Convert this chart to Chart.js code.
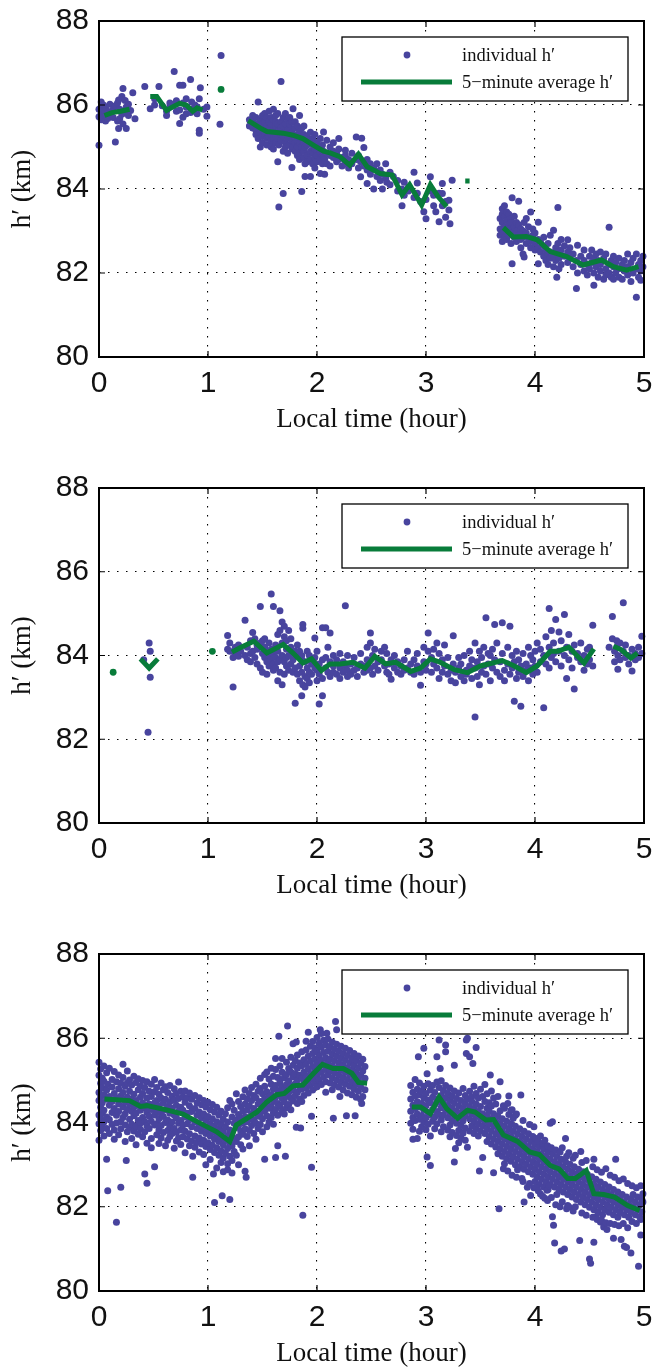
<!DOCTYPE html>
<html>
<head>
<meta charset="utf-8">
<script src="https://cdn.jsdelivr.net/npm/chart.js@4.4.0/dist/chart.umd.min.js"></script>
<style>
    html, body { margin: 0; padding: 0; background: #fff; overflow: hidden; }
    .panel { position: absolute; left: 0; width: 653px; height: 445px; }
</style>
</head>
<body>
<div class="panel" style="top:0px"><canvas id="panelA" width="653" height="445"></canvas></div>
<div class="panel" style="top:467px"><canvas id="panelB" width="653" height="445"></canvas></div>
<div class="panel" style="top:933px"><canvas id="panelC" width="653" height="445"></canvas></div>
<script>
// axis ticks and legend text
const timeTicks = [0, 1, 2, 3, 4, 5];
const heightTicks = [80, 82, 84, 86, 88];
const legendLabels = ['individual h′', '5−minute average h′'];
const xTitle = 'Local time (hour)';
const yTitle = 'h′ (km)';

// individual h' : [local time, [heights...]]
const scatterA = [
    [0.00, [85.04, 85.72, 85.9]], [0.02, [86.07, 85.8, 85.65, 85.95]], [0.04, [85.88, 85.7, 86.0]],
    [0.06, [85.75, 85.95, 85.62]], [0.08, [85.85, 85.68]], [0.10, [85.78, 86.02]], [0.13, [85.9, 85.7]],
    [0.15, [85.12, 85.98]], [0.17, [86.05, 85.62]], [0.18, [85.44, 86.12]], [0.19, [85.67, 85.9]],
    [0.21, [86.2, 85.78]], [0.22, [86.39, 85.55]], [0.24, [86.11, 85.85]], [0.25, [85.44, 85.95]],
    [0.27, [85.75, 86.02]], [0.29, [85.87]], [0.31, [86.29]], [0.33, [85.67]],
    [0.42, [86.44]], [0.47, [85.91]], [0.51, [86.0, 86.15]], [0.55, [86.44]], [0.58, [85.98]],
    [0.62, [85.75, 85.85]], [0.65, [85.95, 86.05]], [0.69, [86.8, 86.02]], [0.71, [85.85, 86.1]],
    [0.74, [86.47, 85.56, 85.88]], [0.77, [86.47, 85.71, 86.05]], [0.80, [85.79, 85.95, 86.15]],
    [0.84, [86.61, 85.82]], [0.85, [86.07, 85.9]], [0.88, [85.85, 86.0]], [0.90, [85.79, 85.95]],
    [0.92, [85.33, 86.15, 85.4]], [0.93, [86.41]], [0.96, [85.9]], [0.99, [85.73, 85.95]],
    [1.11, [85.54]], [1.12, [87.18]],
    [1.38, [85.65, 85.5]], [1.41, [85.75, 85.45, 85.6]], [1.44, [85.4, 85.55, 85.7, 85.3]],
    [1.46, [86.07, 85.2, 85.5]], [1.48, [85.65, 85.35, 85.45, 85.0]], [1.50, [85.55, 85.25, 85.75, 85.1]],
    [1.52, [85.4, 85.6, 85.3, 85.8]], [1.54, [85.2, 85.5, 85.7, 85.05, 85.35]],
    [1.56, [85.45, 85.6, 85.25, 85.85]], [1.58, [85.3, 85.55, 85.15, 85.7, 85.0]],
    [1.60, [85.4, 85.65, 85.2, 85.9, 84.95]], [1.62, [85.5, 85.3, 85.75, 85.1, 85.6]],
    [1.64, [84.65, 85.35, 85.55, 85.2, 85.8]], [1.65, [83.57, 85.4, 85.05]],
    [1.67, [86.56, 85.3, 85.6, 85.15, 85.45]], [1.69, [83.89, 85.25, 85.5, 85.7, 84.9]],
    [1.71, [85.35, 85.1, 85.55, 85.8, 85.0]], [1.73, [85.4, 85.2, 85.65, 84.85, 85.3]],
    [1.75, [85.25, 85.45, 85.05, 85.7, 85.55]], [1.77, [84.51, 85.15, 85.35, 85.6, 84.95]],
    [1.78, [85.91, 85.3, 85.0]], [1.80, [85.2, 85.45, 84.9, 85.6, 85.1]],
    [1.82, [85.0, 85.3, 85.5, 84.8, 85.15]], [1.84, [85.75, 85.1, 84.85, 85.35, 84.7]],
    [1.86, [83.94, 85.2, 84.95, 85.45, 85.0]], [1.88, [84.9, 85.1, 85.3, 84.75, 85.5]],
    [1.89, [84.3, 85.0, 84.6]], [1.91, [85.05, 84.8, 85.25, 84.65]],
    [1.94, [84.3, 84.9, 85.15, 84.7, 85.35]], [1.96, [84.85, 85.05, 84.6, 85.2]],
    [1.98, [84.75, 84.95, 85.3, 84.5]], [2.00, [84.9, 85.1, 84.65, 84.8]],
    [2.03, [84.37, 84.85, 85.0, 84.7, 85.2]], [2.05, [84.8, 84.6, 85.05]], [2.06, [85.36, 84.9, 84.75]],
    [2.07, [84.35, 84.7]], [2.09, [85.16, 84.85, 84.6]], [2.12, [84.8, 85.0, 84.55]],
    [2.15, [84.75, 84.9, 85.1]], [2.18, [84.65, 84.85]], [2.20, [85.2, 84.7, 84.95]],
    [2.23, [84.75, 84.55]], [2.26, [84.92, 84.6, 84.8]], [2.29, [84.7, 84.5]], [2.32, [84.85, 84.6]],
    [2.36, [85.24, 84.7]], [2.38, [84.5, 84.8]], [2.40, [84.29, 84.65]], [2.41, [85.21]],
    [2.43, [84.99, 84.55]], [2.46, [84.13, 84.45, 84.7]], [2.49, [84.35, 84.6]], [2.52, [84.0, 84.5]],
    [2.55, [84.6, 84.3]], [2.58, [84.45, 84.2]], [2.60, [84.0, 84.35]], [2.63, [84.6, 84.25]],
    [2.64, [84.16]], [2.67, [84.4, 84.1]], [2.70, [84.3]], [2.74, [84.2, 83.95]], [2.78, [83.6, 84.0]],
    [2.80, [84.16, 83.85]], [2.84, [83.95, 84.05]], [2.89, [84.4, 83.8]], [2.92, [84.14, 83.9]],
    [2.95, [83.7]], [2.98, [83.46]], [3.00, [83.29, 83.75]], [3.04, [84.29, 83.95]],
    [3.07, [83.85, 83.6]], [3.09, [83.46]], [3.12, [83.22, 83.9]], [3.15, [84.13, 83.89, 83.6]],
    [3.18, [83.33, 83.7]], [3.21, [83.73, 83.5]], [3.22, [83.17]], [3.24, [84.21]],
    [3.68, [83.3, 83.05, 82.9]], [3.70, [83.53, 83.2, 82.95, 83.4, 82.75]],
    [3.72, [83.1, 83.35, 82.85, 83.6]], [3.74, [83.25, 83.0, 82.8, 83.45]],
    [3.76, [83.15, 82.9, 83.4, 83.05]], [3.78, [83.3, 82.7, 83.0, 83.2]], [3.79, [83.79, 82.22, 82.95]],
    [3.81, [83.1, 82.85, 83.35]], [3.83, [83.2, 82.75, 83.0]], [3.85, [83.71, 82.9, 83.15]],
    [3.87, [82.8, 83.05, 82.6]], [3.89, [83.0, 82.85, 82.45]], [3.90, [82.38, 83.2]],
    [3.92, [82.95, 82.7, 83.3]], [3.94, [82.85, 83.1]], [3.96, [83.45, 82.75, 82.6]],
    [3.98, [82.9, 83.05]], [4.00, [82.7, 82.55, 82.95]], [4.03, [83.21, 82.22, 82.6, 82.8]],
    [4.05, [82.75, 82.5]], [4.08, [82.4, 82.65, 82.85]], [4.10, [82.55, 82.3]],
    [4.12, [82.7, 82.45, 82.2]], [4.14, [82.5, 82.35, 82.9]], [4.17, [83.02, 82.4, 82.15]],
    [4.19, [82.6, 82.3]], [4.20, [81.9, 82.5]], [4.21, [83.56, 82.7]], [4.22, [82.1, 82.35]],
    [4.24, [82.55, 82.2, 82.8]], [4.27, [82.4, 82.65]], [4.30, [82.79, 82.25, 82.5]],
    [4.32, [82.35, 82.6]], [4.35, [82.15, 82.45]], [4.38, [81.63, 82.3]], [4.39, [82.66, 82.0]],
    [4.42, [82.2, 82.4]], [4.45, [82.05, 82.3, 82.55]], [4.48, [82.2, 81.95]], [4.50, [82.4, 82.1]],
    [4.52, [82.25, 82.55]], [4.54, [81.71, 82.0, 82.35]], [4.56, [82.15, 82.45]], [4.58, [81.9, 82.3]],
    [4.60, [82.5, 82.05, 82.2]], [4.63, [81.85, 82.35]], [4.65, [82.1, 82.45, 81.95]],
    [4.68, [83.09, 82.2, 82.0]], [4.70, [82.3, 81.9]], [4.72, [82.15, 82.4, 81.85]],
    [4.74, [82.0, 82.25]], [4.77, [82.35, 81.9, 82.1]], [4.80, [82.2, 81.85]], [4.82, [82.05, 82.3]],
    [4.85, [81.95, 82.15, 82.45]], [4.88, [82.25, 81.8]], [4.90, [82.0, 82.35]],
    [4.93, [81.42, 82.1, 82.45]], [4.95, [82.2, 81.9]], [4.97, [81.83, 82.3, 82.05]], [4.99, [82.15, 82.4]]
];

const scatterB = [
    [0.41, [83.9]], [0.45, [82.17]], [0.46, [84.3]], [0.47, [84.1, 83.48]],
    [1.18, [84.48, 84.15]], [1.20, [84.1, 84.3]], [1.23, [83.25, 83.95]], [1.25, [84.2, 84.05]],
    [1.28, [84.25, 83.98]], [1.30, [84.1]], [1.34, [84.84, 84.0]], [1.36, [84.2, 83.9]],
    [1.39, [84.35, 84.05, 83.85]], [1.41, [84.55, 84.1]], [1.43, [84.4, 83.95]],
    [1.45, [84.25, 83.8, 84.15]], [1.48, [85.17, 84.3, 83.7]], [1.50, [84.05, 84.35, 83.6]],
    [1.52, [84.2, 83.95, 84.4]], [1.54, [83.85, 84.1, 83.55]], [1.56, [84.0, 83.75, 84.3]],
    [1.58, [85.47, 83.9, 84.15]], [1.60, [85.17, 83.8, 84.05, 83.65]], [1.62, [84.25, 83.95, 83.7]],
    [1.64, [84.5, 83.85, 84.1, 83.4]], [1.66, [85.07, 84.6, 83.9, 83.6]], [1.68, [84.8, 84.3, 84.0, 83.3]],
    [1.70, [84.7, 83.85, 84.45, 83.55]], [1.72, [84.35, 83.95, 84.15, 83.75]], [1.74, [84.6, 84.0, 83.65]],
    [1.76, [84.2, 83.8, 84.4]], [1.78, [83.6, 84.05, 83.9]], [1.80, [82.86, 84.1, 83.7]],
    [1.82, [84.0, 83.55, 84.25]], [1.84, [83.75, 83.4, 84.1]], [1.86, [83.04, 83.9, 83.6, 84.0]],
    [1.87, [84.74, 84.65, 83.3]], [1.89, [83.5, 83.85, 83.25]], [1.91, [84.1, 83.7, 83.45]],
    [1.93, [83.6, 84.0, 83.35]], [1.95, [83.8, 83.55]], [1.98, [84.42, 83.7, 83.95]],
    [2.00, [83.65, 83.4, 84.1]], [2.02, [82.84, 83.8, 83.55]], [2.05, [83.04, 84.66, 83.9, 83.45]],
    [2.08, [84.66, 83.7, 83.95]], [2.10, [83.6, 84.2]], [2.12, [84.54, 83.85, 83.5]],
    [2.15, [83.75, 84.0, 83.6]], [2.18, [83.9, 83.55]], [2.21, [83.7, 84.05, 83.45]],
    [2.24, [83.85, 83.6]], [2.26, [85.19, 83.75]], [2.28, [83.5, 84.0, 83.65]], [2.31, [83.8, 83.55]],
    [2.34, [83.95, 83.65]], [2.37, [83.7, 83.5]], [2.40, [83.8, 84.05]], [2.43, [83.6, 83.75]],
    [2.46, [84.2, 83.9, 83.65]], [2.49, [84.54, 84.3, 83.7]], [2.51, [84.0, 83.55]], [2.53, [84.15, 83.75]],
    [2.56, [83.85, 83.65]], [2.59, [83.9, 84.1]], [2.62, [84.2, 83.75]], [2.64, [84.05, 83.6]],
    [2.66, [83.8, 83.55]], [2.68, [83.43, 83.9]], [2.71, [83.7, 84.0]], [2.74, [83.6, 83.85]],
    [2.77, [83.55, 83.75]], [2.80, [83.9, 83.65]], [2.83, [84.1, 83.7]], [2.86, [83.6, 83.8]],
    [2.89, [83.9, 83.55]], [2.92, [83.75, 84.05]], [2.95, [83.29, 83.6]], [2.98, [83.85, 84.2]],
    [3.00, [83.65, 83.8]], [3.02, [84.54, 84.1]], [3.05, [83.6, 83.95]], [3.07, [83.8, 84.15]],
    [3.10, [84.3, 83.7]], [3.12, [83.45, 84.05]], [3.15, [83.9, 83.6]], [3.17, [84.25, 83.75]],
    [3.20, [83.55, 83.95]], [3.23, [83.65, 83.4]], [3.25, [84.47, 83.8]], [3.27, [83.35, 83.6]],
    [3.30, [83.7, 83.95]], [3.32, [83.5, 83.8]], [3.35, [83.4, 84.0]], [3.37, [83.65, 83.55]],
    [3.40, [83.75, 84.1]], [3.42, [83.45, 83.9]], [3.45, [82.53, 84.3, 83.7]], [3.47, [83.5, 83.85]],
    [3.49, [84.1, 83.3]], [3.51, [83.95, 83.6]], [3.53, [84.2, 83.75]], [3.55, [84.9, 83.55]],
    [3.57, [84.05, 83.8]], [3.59, [83.4, 84.0]], [3.61, [83.7, 84.15]], [3.63, [84.74, 83.9]],
    [3.65, [83.6, 84.3]], [3.68, [83.85, 83.5]], [3.70, [84.78, 84.05]], [3.72, [83.65, 83.4]],
    [3.75, [83.8, 84.2]], [3.77, [84.7, 83.55]], [3.79, [83.7, 84.0]], [3.81, [82.91, 83.85]],
    [3.83, [83.45, 84.1]], [3.85, [83.6, 83.9]], [3.87, [82.79, 83.75]], [3.89, [84.05, 83.5]],
    [3.92, [83.65, 83.8]], [3.94, [83.4, 84.2]], [3.96, [83.7, 84.0]], [3.98, [83.55, 83.9]],
    [4.00, [84.1, 83.75]], [4.02, [83.6, 84.3]], [4.05, [83.85, 84.15]], [4.08, [82.75, 84.0]],
    [4.10, [84.45, 83.8]], [4.13, [85.12, 84.2, 83.7]], [4.15, [84.6, 83.95]], [4.17, [84.3, 84.05]],
    [4.19, [84.86, 83.85]], [4.22, [84.56, 84.1]], [4.24, [83.75, 84.35]], [4.27, [84.98, 84.0]],
    [4.29, [83.45, 84.2]], [4.31, [84.5, 83.9]], [4.34, [84.1, 83.7]], [4.36, [83.2, 84.25]],
    [4.39, [83.95, 84.05]], [4.42, [84.3, 83.85]], [4.45, [84.0, 83.65]], [4.48, [83.8, 84.15]],
    [4.50, [84.2, 83.9]], [4.53, [84.72, 83.75]],
    [4.68, [84.2]], [4.71, [84.93, 84.4]], [4.73, [84.1, 83.85]], [4.75, [84.35, 84.2]],
    [4.76, [83.67, 84.0]], [4.78, [84.3, 83.9]], [4.81, [85.26, 84.1]], [4.83, [83.95, 84.25]],
    [4.86, [84.0, 83.8]], [4.89, [83.63, 84.15]], [4.92, [83.9, 84.05]], [4.95, [84.2, 83.95]],
    [4.98, [84.46, 84.05]]
];

const scatterC = [
    [0.000, [85.43, 85.12, 84.71, 84.52, 84.18, 83.97, 83.58]], [0.015, [85.27, 84.93, 84.61, 84.36, 84.09, 83.81]],
    [0.03, [85.05, 84.82, 84.47, 84.22, 83.9]], [0.045, [85.34, 84.98, 84.66, 84.29, 84.01, 83.68]],
    [0.07, [85.18, 84.77, 84.55, 84.13, 83.13, 83.86]], [0.08, [82.38, 84.91]],
    [0.095, [85.29, 84.62, 84.41, 84.07, 83.74]], [0.12, [85.02, 84.84, 84.5, 84.24, 83.95]],
    [0.14, [85.21, 84.69, 84.33, 83.82, 83.6]], [0.16, [81.63, 84.97, 84.58, 84.17, 83.99]],
    [0.18, [85.13, 84.8, 84.44, 84.26, 83.71]], [0.20, [82.46, 84.93, 84.63, 84.02, 83.85]],
    [0.22, [85.38, 85.07, 84.71, 84.37, 84.12]], [0.24, [84.86, 84.49, 84.21, 83.94, 83.55]], [0.25, [83.1]],
    [0.26, [85.22, 84.94, 84.6, 84.31, 83.78]], [0.28, [85.01, 84.74, 84.43, 84.08, 83.88]],
    [0.30, [84.89, 84.55, 84.27, 83.96, 83.62]], [0.32, [85.1, 84.67, 84.36, 84.16, 83.8]],
    [0.34, [84.95, 84.52, 84.22, 83.91, 83.47]], [0.36, [85.04, 84.78, 84.41, 84.05, 83.72]],
    [0.38, [84.86, 84.6, 84.29, 83.99, 83.84]], [0.40, [85.0, 84.69, 84.46, 84.12, 83.66]],
    [0.42, [82.78, 84.83, 84.35, 84.02, 83.78]], [0.44, [82.56, 84.97, 84.58, 84.24, 83.92, 83.51]],
    [0.46, [84.74, 84.44, 84.15, 83.86]], [0.48, [84.91, 84.62, 84.31, 84.03, 83.62, 83.4]],
    [0.51, [82.95, 85.02, 84.73, 84.47, 84.18, 83.94]], [0.53, [84.83, 84.52, 84.26, 83.97, 83.71]],
    [0.55, [84.67, 84.39, 84.09, 83.82, 83.5]], [0.57, [84.94, 84.58, 84.21, 83.93, 83.63]],
    [0.59, [84.78, 84.46, 84.14, 83.76]], [0.61, [84.85, 84.55, 84.3, 84.0, 83.45]],
    [0.63, [84.71, 84.38, 84.06, 83.81, 83.58]], [0.65, [84.88, 84.49, 84.22, 83.91, 83.67]],
    [0.67, [84.63, 84.34, 84.01, 83.74]], [0.69, [84.8, 84.53, 84.18, 83.86, 83.39]],
    [0.71, [84.69, 84.41, 84.11, 83.77, 83.56]], [0.73, [84.96, 84.57, 84.27, 83.98, 83.64]],
    [0.75, [84.74, 84.36, 84.05, 83.82, 83.48]], [0.77, [84.61, 84.29, 83.94, 83.66]],
    [0.79, [84.75, 84.48, 84.13, 83.79, 83.28]], [0.81, [84.58, 84.22, 83.97, 83.61]],
    [0.83, [84.7, 84.4, 84.07, 83.73, 83.45]], [0.85, [84.55, 84.26, 83.9, 83.56]], [0.86, [82.7, 83.2]],
    [0.88, [84.64, 84.33, 84.02, 83.68, 83.41]], [0.90, [84.47, 84.17, 83.86, 83.53]],
    [0.92, [84.59, 84.25, 83.95, 83.63, 83.3]], [0.94, [84.42, 84.11, 83.79, 83.49]],
    [0.96, [84.52, 84.2, 83.9, 83.58, 83.24]], [0.98, [84.37, 84.05, 83.74, 83.43, 83.0]],
    [1.00, [84.48, 84.14, 83.83, 83.52]], [1.02, [84.3, 83.97, 83.68, 83.36, 83.12]],
    [1.04, [84.43, 84.09, 83.77, 83.46]], [1.05, [82.78]], [1.06, [82.1, 84.25, 83.91, 83.6, 83.29]],
    [1.08, [84.36, 84.02, 83.71, 83.4, 82.92]], [1.10, [84.18, 83.85, 83.55, 83.22]],
    [1.12, [84.27, 83.96, 83.63, 83.33, 83.05]], [1.13, [82.26]], [1.14, [84.08, 83.79, 83.47, 83.16, 82.83]],
    [1.16, [84.21, 83.9, 83.58, 83.27]], [1.18, [84.35, 84.01, 83.69, 83.38, 83.02, 82.88]],
    [1.20, [82.17, 84.52, 83.82, 83.5, 83.2]], [1.22, [84.44, 84.13, 83.76, 83.44, 83.1, 82.8]],
    [1.24, [84.29, 83.98, 83.62, 83.31]], [1.26, [84.68, 84.06, 83.88, 83.55, 83.22]],
    [1.28, [84.5, 84.19, 83.93, 83.66, 83.0]], [1.30, [84.38, 84.1, 83.8, 83.47]],
    [1.32, [84.61, 84.28, 83.99, 83.72, 83.37]], [1.34, [82.84, 84.77, 84.44, 84.14, 83.85]], [1.35, [82.7]],
    [1.36, [84.56, 84.3, 84.02, 83.67]], [1.38, [84.69, 84.39, 84.09, 83.81, 83.45]],
    [1.40, [84.83, 84.52, 84.21, 83.93]], [1.42, [84.64, 84.33, 84.06, 83.74]],
    [1.44, [84.91, 84.59, 84.27, 83.98, 83.6]], [1.46, [84.74, 84.44, 84.15, 83.86]],
    [1.48, [85.05, 84.81, 84.5, 84.22, 83.95]], [1.50, [84.68, 84.37, 84.09, 83.78]],
    [1.52, [83.13, 85.14, 84.86, 84.57, 84.28]], [1.54, [85.2, 84.73, 84.44, 84.16, 83.9]],
    [1.56, [85.03, 84.62, 84.34, 84.01]], [1.58, [85.29, 84.91, 84.66, 84.38, 84.12]],
    [1.60, [85.1, 84.79, 84.5, 84.23, 83.96]], [1.62, [85.52, 83.17, 85.26, 84.88, 84.6, 84.31]],
    [1.64, [83.45, 85.07, 84.76, 84.45, 84.17]], [1.65, [86.05]], [1.66, [85.34, 84.96, 84.68, 84.39]],
    [1.68, [85.52, 85.19, 84.85, 84.57, 84.27]], [1.70, [85.06, 84.78, 84.49, 84.2]], [1.71, [83.2]],
    [1.72, [85.43, 85.14, 84.9, 84.62, 84.35]], [1.73, [86.29]], [1.74, [85.28, 84.99, 84.71, 84.43]],
    [1.76, [85.55, 85.2, 84.87, 84.58, 84.3]], [1.78, [85.87, 85.36, 85.08, 84.77, 84.51]],
    [1.80, [85.47, 85.16, 84.92, 84.64]], [1.81, [85.91, 83.89]], [1.82, [85.6, 85.29, 85.01, 84.72, 84.45]],
    [1.84, [85.41, 85.12, 84.85, 84.56]], [1.85, [83.87]], [1.86, [85.68, 85.35, 85.05, 84.79, 84.5]],
    [1.87, [81.8]], [1.88, [85.49, 85.2, 84.93, 84.64]], [1.90, [85.93, 85.72, 85.39, 85.08, 84.82]],
    [1.92, [86.14, 85.57, 85.27, 84.98, 84.7]], [1.94, [85.81, 85.46, 85.16, 84.88]], [1.95, [82.94, 84.15]],
    [1.96, [85.92, 85.64, 85.33, 85.03, 84.77]], [1.98, [85.77, 85.5, 85.21, 84.94]],
    [2.00, [86.02, 85.69, 85.41, 85.12, 84.85]], [2.02, [85.88, 85.58, 85.3, 85.01]], [2.03, [86.2]],
    [2.04, [86.11, 85.79, 85.47, 85.19, 84.9]], [2.06, [85.95, 85.66, 85.37, 85.08]],
    [2.08, [85.84, 85.54, 85.26, 84.97, 84.72]], [2.09, [86.12]], [2.10, [85.98, 85.69, 85.42, 85.13]],
    [2.12, [85.8, 85.51, 85.23, 84.94]], [2.14, [85.91, 85.63, 85.35, 85.06, 84.78]], [2.15, [84.1]],
    [2.16, [85.74, 85.47, 85.18, 84.89]], [2.17, [86.4]], [2.18, [86.2, 85.86, 85.58, 85.29, 85.01]],
    [2.20, [85.69, 85.41, 85.12, 84.84]], [2.21, [84.62]], [2.22, [85.81, 85.53, 85.24, 84.96]],
    [2.24, [85.64, 85.36, 85.07, 84.77]], [2.26, [85.76, 85.48, 85.19, 84.91]], [2.27, [84.16]],
    [2.28, [85.59, 85.3, 85.02, 84.7]], [2.30, [85.71, 85.42, 85.14, 84.86]],
    [2.32, [85.53, 85.25, 84.97, 84.66]], [2.34, [85.64, 85.36, 85.08, 84.79]], [2.35, [84.16]],
    [2.36, [85.47, 85.19, 84.91, 84.6]], [2.38, [85.58, 85.3, 85.02, 84.74]],
    [2.40, [85.41, 85.12, 84.84, 84.55]], [2.41, [84.45]], [2.42, [85.5, 85.22, 84.62]], [2.44, [85.33, 85.05, 84.78]],
    [2.86, [84.88, 84.56, 84.27, 83.98]], [2.88, [84.72, 84.41, 84.12, 83.84, 83.6]],
    [2.90, [85.02, 84.63, 84.33, 84.05]], [2.92, [84.79, 84.49, 84.2, 83.62]], [2.93, [85.56]],
    [2.94, [84.94, 84.66, 84.37, 84.08, 83.79]], [2.96, [84.75, 84.45, 84.16, 83.9]],
    [2.98, [85.76, 84.86, 84.58, 84.29, 84.01]], [3.00, [84.69, 84.4, 84.11, 83.83]], [3.01, [85.16, 83.18]],
    [3.02, [84.92, 84.53, 84.24, 83.96]], [3.04, [82.98, 84.77, 84.47, 84.18, 83.68]],
    [3.06, [84.88, 84.6, 84.31, 84.03]], [3.08, [84.71, 84.42, 84.13, 83.85]],
    [3.10, [85.56, 84.96, 84.55, 84.26, 83.97]], [3.12, [85.96, 84.83, 84.48, 84.19]], [3.13, [85.28]],
    [3.14, [84.99, 84.64, 84.35, 84.06, 83.78]], [3.16, [84.76, 84.47, 84.18, 83.9]],
    [3.18, [85.84, 85.68, 84.88, 84.58, 84.29]], [3.20, [84.69, 84.4, 84.11, 83.82]],
    [3.22, [84.82, 84.52, 84.23, 83.94, 83.66]], [3.24, [84.63, 84.34, 84.05, 83.76]],
    [3.26, [85.36, 83.06, 84.75, 84.46, 84.17]], [3.27, [83.38]], [3.28, [84.57, 84.27, 83.98, 83.69]],
    [3.30, [84.7, 84.39, 84.1, 83.81, 83.52]], [3.32, [84.52, 84.22, 83.93, 83.64]],
    [3.34, [84.81, 84.33, 84.04, 83.75]], [3.36, [84.64, 84.45, 84.16, 83.87, 83.58]],
    [3.37, [85.96, 85.64]], [3.38, [86.0, 83.41, 84.56, 84.27]], [3.40, [85.56, 84.74, 84.38, 84.09, 83.8]],
    [3.42, [84.61, 84.5, 84.21, 83.92]], [3.43, [85.4]], [3.44, [84.86, 84.32, 84.03, 83.74]],
    [3.46, [85.78, 84.69, 84.44, 84.15, 83.86]], [3.48, [84.58, 84.26, 83.97, 83.68]], [3.49, [82.85]],
    [3.50, [84.79, 84.38, 84.09, 83.8]], [3.52, [83.17, 84.62, 84.21, 83.92]],
    [3.54, [84.9, 84.5, 84.03, 83.74]], [3.56, [84.68, 84.34, 84.15, 83.86, 83.55]],
    [3.58, [84.47, 84.27, 83.97, 83.67]], [3.59, [85.13]], [3.60, [84.75, 84.39, 84.09, 83.79, 83.49]],
    [3.62, [82.81, 84.58, 84.21, 83.91, 83.61]], [3.64, [84.44, 84.03, 83.73, 83.42]],
    [3.66, [84.62, 84.15, 83.85, 83.55, 83.26]], [3.67, [81.95]], [3.68, [84.97, 84.28, 83.97, 83.67, 83.37]],
    [3.70, [84.09, 83.79, 83.49, 83.2]], [3.72, [84.34, 83.91, 83.61, 83.31, 83.02]],
    [3.74, [84.03, 83.73, 83.43, 83.14]], [3.76, [84.63, 84.19, 83.85, 83.55, 83.25]],
    [3.78, [84.29, 83.97, 83.67, 83.37, 83.08]], [3.80, [84.1, 83.79, 83.49, 83.19]],
    [3.82, [84.17, 83.91, 83.61, 83.31, 83.0]], [3.84, [83.73, 83.43, 83.13, 82.88]],
    [3.86, [83.85, 83.55, 83.25, 82.95]], [3.87, [84.65]], [3.88, [82.67, 83.67, 83.37, 83.07]],
    [3.90, [82.11, 83.79, 83.49, 83.19, 82.89]], [3.92, [83.61, 83.31, 83.01]], [3.93, [82.46]],
    [3.94, [83.73, 83.43, 83.13, 82.83]], [3.96, [82.27, 83.55, 83.25, 82.95]],
    [3.98, [83.67, 83.37, 83.07, 82.77]], [4.00, [83.49, 83.19, 82.89, 82.6]],
    [4.02, [83.31, 83.01, 82.71]], [4.04, [83.43, 83.13, 82.83, 82.53]], [4.06, [83.25, 82.95, 82.65]],
    [4.08, [83.37, 83.07, 82.77, 82.47]], [4.10, [83.19, 82.89, 82.59]], [4.11, [82.39]],
    [4.12, [83.31, 83.01, 82.71, 82.41]], [4.13, [82.5]], [4.14, [83.98, 83.13, 82.83, 82.53]],
    [4.16, [84.02, 81.76, 83.25, 82.95, 82.65]], [4.17, [81.56]], [4.18, [81.14, 83.07, 82.77, 82.47]],
    [4.20, [83.19, 82.89, 82.59, 82.29]], [4.22, [83.01, 82.71, 82.41]], [4.24, [80.95, 83.13, 82.83, 82.53]],
    [4.26, [82.95, 82.65, 82.35]], [4.27, [81.0]], [4.28, [83.62, 83.07, 82.77, 82.47]],
    [4.30, [82.03, 82.89, 82.59, 82.29]], [4.32, [83.01, 82.71, 82.41]], [4.34, [82.83, 82.53, 82.23]],
    [4.36, [82.95, 82.65, 82.35]], [4.38, [82.77, 82.47, 82.17]], [4.40, [82.89, 82.59, 82.29]],
    [4.41, [81.2]], [4.42, [83.31, 82.71, 82.41, 82.11]], [4.44, [82.83, 82.53, 82.23]],
    [4.46, [82.65, 82.35, 82.05]], [4.48, [82.77, 82.47, 82.17]], [4.50, [80.76, 82.59, 82.29, 81.99]],
    [4.51, [80.66]], [4.52, [82.71, 82.41, 82.11]], [4.54, [83.13, 81.16, 82.53, 82.23, 81.93]],
    [4.56, [81.76, 82.65, 82.35, 82.05]], [4.58, [82.47, 82.17, 81.87]], [4.60, [81.64, 82.59, 82.29, 81.99]],
    [4.62, [82.41, 82.11, 81.81]], [4.63, [81.52]], [4.64, [82.53, 82.23, 81.93]], [4.66, [81.46, 82.35, 82.05]],
    [4.68, [82.47, 82.17, 81.87]], [4.70, [82.29, 81.99]], [4.72, [81.25, 82.41, 82.11, 81.81]],
    [4.74, [83.13, 82.23, 81.93]], [4.76, [82.35, 82.05, 81.75]], [4.78, [82.17, 81.87]], [4.79, [81.22]],
    [4.80, [82.29, 81.99]], [4.82, [81.06, 82.11, 81.81]], [4.84, [81.03, 82.23, 81.93]],
    [4.86, [82.05, 81.75]], [4.88, [80.9, 82.17, 81.87]], [4.90, [81.99, 82.29]], [4.92, [82.11, 81.81]],
    [4.94, [81.93, 82.23]], [4.95, [80.59]], [4.96, [82.05, 81.76]], [4.97, [81.33]], [4.98, [82.17, 81.88]],
    [4.99, [82.11, 82.31]],
    [3.71, [84.4, 82.9]], [3.75, [84.45, 82.85]], [3.79, [84.3, 82.75]], [3.83, [84.2, 82.7]],
    [3.89, [84.05, 82.6]], [3.95, [83.95, 82.55]], [3.99, [83.9, 82.45]],
    [4.01, [83.62, 82.45]], [4.03, [83.55, 82.38]], [4.05, [83.68, 82.3]], [4.07, [83.5, 82.25]],
    [4.09, [83.58, 82.2]], [4.115, [83.45, 82.15]], [4.15, [83.4, 82.22]], [4.19, [83.35, 82.05]],
    [4.23, [83.3, 82.0]], [4.25, [83.4, 82.12]], [4.29, [83.2, 81.95]], [4.31, [83.28, 82.0]],
    [4.35, [83.15, 81.9]], [4.37, [83.22, 82.0]], [4.43, [83.05, 81.85]], [4.47, [83.1, 81.8]],
    [4.53, [82.95, 81.75]], [4.57, [82.88, 81.7]], [4.61, [82.82, 81.68]], [4.65, [82.9, 81.62]],
    [4.69, [82.75, 81.6]], [4.73, [82.7, 81.58]], [4.77, [82.62, 81.55]], [4.81, [82.66, 81.6]],
    [4.85, [82.55, 81.5]], [4.89, [82.5, 81.65]], [4.93, [82.45, 81.6]], [4.97, [82.5, 81.7]]
];

// 5-minute average h' (null = no data, line breaks there)
const avgTimeA = [0.05, 0.12, 0.20, 0.28, 0.38, 0.47, 0.53, 0.62, 0.68, 0.74, 0.80, 0.86, 0.90, 0.95, 1.03,
    1.12, 1.25, 1.37, 1.48, 1.54, 1.69, 1.78, 1.87, 1.97, 2.06, 2.12, 2.21, 2.30, 2.38, 2.46, 2.58, 2.69,
    2.78, 2.85, 2.96, 3.04, 3.11, 3.19, 3.28, 3.36, 3.40, 3.55, 3.71, 3.80, 3.92, 4.02, 4.14, 4.29, 4.44,
    4.61, 4.72, 4.84, 4.95];
const avgHeightA = [85.75, 85.82, 85.85, 85.9, null, 86.2, 86.2, 85.87, 85.96, 86.04, 86.0, 85.85, 85.93, 85.88, null,
    86.37, null, 85.63, 85.45, 85.37, 85.33, 85.28, 85.2, 85.04, 84.9, 84.86, 84.77, 84.57, 84.83, 84.53, 84.37, 84.33,
    83.86, 84.1, 83.62, 84.1, 83.82, 83.58, null, 84.19, 84.19, null, 83.08, 82.86, 82.87, 82.79, 82.51, 82.39, 82.19,
    82.31, 82.15, 82.07, 82.15];

const avgTimeB = [0.13, 0.25, 0.38, 0.46, 0.54, 0.8, 1.04, 1.12, 1.22, 1.29, 1.42, 1.54, 1.69, 1.78, 1.87, 1.95,
    2.04, 2.12, 2.21, 2.33, 2.44, 2.53, 2.63, 2.72, 2.86, 2.95, 3.04, 3.13, 3.26, 3.38, 3.50, 3.70, 3.81, 3.92,
    4.02, 4.14, 4.21, 4.31, 4.45, 4.54, 4.63, 4.72, 4.79, 4.88, 4.94];
const avgHeightB = [83.6, null, 83.92, 83.7, 83.92, null, 84.1, null, 84.08, 84.18, 84.34, 84.06, 84.26, 84.06,
    83.82, 83.92, 83.64, 83.8, 83.8, 83.84, 83.7, 83.98, 83.8, 83.84, 83.62, 83.7, 83.92, 83.84, 83.66, 83.59,
    83.75, 83.88, 83.75, 83.59, 83.75, 84.1, 84.1, 84.2, 83.82, 84.16, null, 84.22, 84.14, 83.94, 84.06];

const avgTimeC = [0.05, 0.28, 0.38, 0.44, 0.62, 0.77, 0.93, 1.08, 1.20, 1.26, 1.45, 1.54, 1.63, 1.70, 1.78, 1.87,
    1.97, 2.05, 2.15, 2.24, 2.32, 2.38, 2.46, 2.65, 2.87, 2.95, 3.04, 3.12, 3.19, 3.29, 3.38, 3.45, 3.55, 3.62,
    3.71, 3.84, 3.95, 4.04, 4.14, 4.22, 4.30, 4.37, 4.47, 4.54, 4.63, 4.73, 4.85, 4.96];
const avgHeightC = [84.56, 84.52, 84.38, 84.4, 84.3, 84.2, 83.98, 83.78, 83.55, 83.94, 84.25, 84.49, 84.66, 84.69,
    84.87, 84.89, 85.17, 85.38, 85.28, 85.28, 85.17, 84.95, 84.93, null, 84.37, 84.37, 84.21, 84.6, 84.33, 84.1,
    84.29, 84.25, 84.06, 84.07, 83.7, 83.55, 83.3, 83.24, 82.98, 82.9, 82.67, 82.67, 82.86, 82.31, 82.29, 82.23,
    82.03, 81.91];

const dotColor = 'rgb(72, 68, 158)';
const lineColor = 'rgb(8, 124, 58)';
const tickFont = { family: '"Liberation Sans", Arial, sans-serif', size: 30 };
const titleFont = { family: '"Liberation Serif", "Times New Roman", serif', size: 27 };

function toPoints(cols) {
    return cols.flatMap(([t, hs]) => hs.map(h => ({ x: t, y: h })));
}

function toLine(times, heights) {
    return times.map((t, i) => ({ x: t, y: heights[i] }));
}

// frame, inward ticks and legend box drawn MATLAB style
const framePlugin = {
    id: 'frame',
    afterDatasetsDraw(chart) {
        const { ctx, chartArea: a, scales: { x, y } } = chart;
        ctx.save();
        ctx.strokeStyle = '#000';
        ctx.lineWidth = 1.2;
        ctx.beginPath();
        x.ticks.forEach(t => {
            const px = x.getPixelForValue(t.value);
            ctx.moveTo(px, a.bottom); ctx.lineTo(px, a.bottom - 6);
            ctx.moveTo(px, a.top); ctx.lineTo(px, a.top + 6);
        });
        y.ticks.forEach(t => {
            const py = y.getPixelForValue(t.value);
            ctx.moveTo(a.left, py); ctx.lineTo(a.left + 6, py);
            ctx.moveTo(a.right, py); ctx.lineTo(a.right - 6, py);
        });
        ctx.stroke();
        ctx.lineWidth = 2;
        ctx.strokeRect(a.left, a.top, a.right - a.left, a.bottom - a.top);

        // legend
        const bw = 286, bh = 64;
        const bx = a.right - 16 - bw, by = a.top + 16;
        ctx.fillStyle = '#fff';
        ctx.fillRect(bx, by, bw, bh);
        ctx.lineWidth = 1.3;
        ctx.strokeRect(bx, by, bw, bh);
        ctx.fillStyle = dotColor;
        ctx.beginPath();
        ctx.arc(bx + 65, by + 18, 3.4, 0, Math.PI * 2);
        ctx.fill();
        ctx.strokeStyle = lineColor;
        ctx.lineWidth = 5;
        ctx.beginPath();
        ctx.moveTo(bx + 19, by + 45);
        ctx.lineTo(bx + 110, by + 45);
        ctx.stroke();
        ctx.fillStyle = '#111';
        ctx.font = '18.5px "Liberation Serif", "Times New Roman", serif';
        ctx.textBaseline = 'middle';
        ctx.textAlign = 'left';
        ctx.fillText(legendLabels[0], bx + 120, by + 19);
        ctx.fillText(legendLabels[1], bx + 120, by + 46);
        ctx.restore();
    }
};

function makePanel(canvasId, scatter, avgTimes, avgHeights, padBottom) {
    const ctx = document.getElementById(canvasId).getContext('2d');
    return new Chart(ctx, {
        type: 'scatter',
        data: {
            datasets: [
                {
                    label: legendLabels[1],
                    data: toLine(avgTimes, avgHeights),
                    showLine: true,
                    spanGaps: false,
                    borderColor: lineColor,
                    backgroundColor: lineColor,
                    borderWidth: 5,
                    borderJoinStyle: 'miter',
                    pointRadius: c => {
                        const d = c.dataset.data, i = c.dataIndex;
                        const prev = d[i - 1], next = d[i + 1];
                        const alone = (!prev || prev.y == null) && (!next || next.y == null);
                        return alone ? 3.4 : 0;
                    },
                    pointBorderWidth: 0,
                    clip: false,
                    order: 0
                },
                {
                    label: legendLabels[0],
                    data: toPoints(scatter),
                    backgroundColor: dotColor,
                    borderWidth: 0,
                    pointRadius: 3.5,
                    clip: false,
                    order: 1
                }
            ]
        },
        options: {
            responsive: false,
            animation: false,
            devicePixelRatio: 1,
            layout: { padding: { top: 21, right: 9, bottom: padBottom, left: 0 } },
            plugins: { legend: { display: false }, tooltip: { enabled: false } },
            scales: {
                x: {
                    type: 'linear',
                    min: timeTicks[0],
                    max: timeTicks[timeTicks.length - 1],
                    afterBuildTicks: s => { s.ticks = timeTicks.map(v => ({ value: v })); },
                    afterFit: s => { s.height = 79; s.paddingLeft = 0; s.paddingRight = 0; },
                    grid: { color: '#000', lineWidth: 1.1, drawTicks: false },
                    border: { display: false, dash: [1.5, 7.5] },
                    ticks: { font: tickFont, color: '#111', padding: 9, maxRotation: 0 },
                    title: { display: true, text: xTitle, font: titleFont, color: '#111', padding: { top: 0, bottom: 0 } }
                },
                y: {
                    type: 'linear',
                    min: heightTicks[0],
                    max: heightTicks[heightTicks.length - 1],
                    afterBuildTicks: s => { s.ticks = heightTicks.map(v => ({ value: v })); },
                    afterFit: s => { s.width = 99; s.paddingTop = 0; s.paddingBottom = 0; },
                    grid: { color: '#000', lineWidth: 1.1, drawTicks: false },
                    border: { display: false, dash: [1.5, 7.5] },
                    ticks: { font: tickFont, color: '#111', padding: 10 },
                    title: { display: true, text: yTitle, font: titleFont, color: '#111', padding: { top: 7, bottom: 0 } }
                }
            }
        },
        plugins: [framePlugin]
    });
}

makePanel('panelA', scatterA, avgTimeA, avgHeightA, 9);
makePanel('panelB', scatterB, avgTimeB, avgHeightB, 10);
makePanel('panelC', scatterC, avgTimeC, avgHeightC, 8);
</script>
</body>
</html>
